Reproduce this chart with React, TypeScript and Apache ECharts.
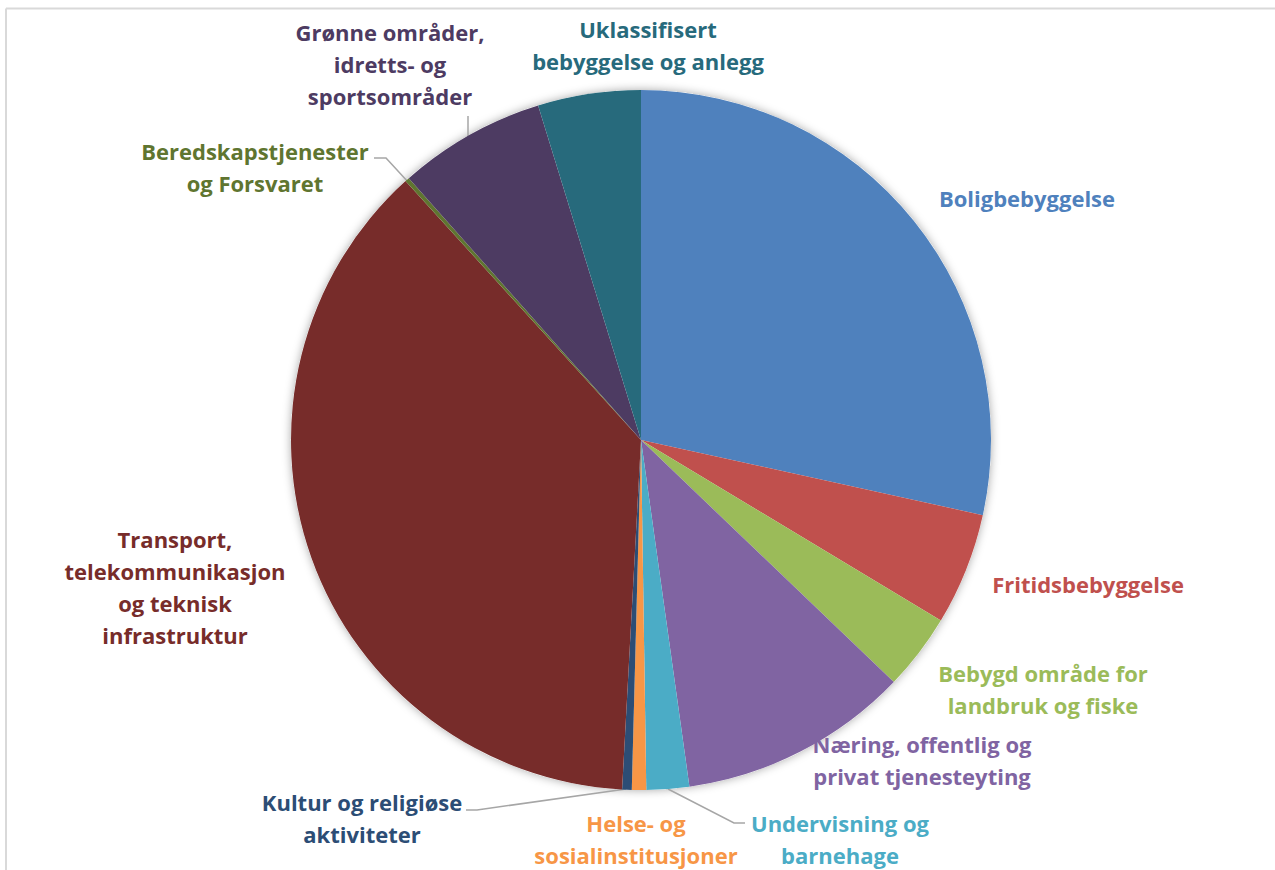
import React, { useEffect, useRef } from "react";
import * as echarts from "echarts";

const categories = [
  "Boligbebyggelse",
  "Fritidsbebyggelse",
  "Bebygd område for\nlandbruk og fiske",
  "Næring, offentlig og\nprivat tjenesteyting",
  "Undervisning og\nbarnehage",
  "Helse- og\nsosialinstitusjoner",
  "Kultur og religiøse\naktiviteter",
  "Transport,\ntelekommunikasjon\nog teknisk\ninfrastruktur",
  "Beredskapstjenester\nog Forsvaret",
  "Grønne områder,\nidretts- og\nsportsområder",
  "Uklassifisert\nbebyggelse og anlegg",
];

const values = [28.45, 5.18, 3.53, 10.64, 1.97, 0.66, 0.44, 37.4, 0.2, 6.8, 4.75];

const colors = [
  "#4F81BD",
  "#C0504D",
  "#9BBB59",
  "#8064A2",
  "#4BACC6",
  "#F79646",
  "#2C4D75",
  "#772C2A",
  "#5F7530",
  "#4D3B62",
  "#276A7C",
];

// label centre positions (px)
const labelPos: [number, number][] = [
  [1027, 198],
  [1088, 584],
  [1043, 689],
  [922, 760],
  [840, 839],
  [636, 839],
  [362, 818],
  [175, 587],
  [255, 167],
  [390, 64],
  [648, 45],
];

// leader lines (pie -> label), null = none
const leaderLines: ([number, number][] | null)[] = [
  null,
  null,
  null,
  null,
  [[668, 789], [734, 823], [745, 823]],
  null,
  [[626, 789], [477, 810], [466, 810]],
  null,
  [[409, 183], [386, 158], [374, 158]],
  [[468, 137], [468, 117], [468, 116]],
  null,
];

export default function App() {
  const ref = useRef<HTMLDivElement>(null);
  useEffect(() => {
    if (!ref.current) return;
    const chart = echarts.init(ref.current, null, { renderer: "svg" });
    const data = categories.map((name, i) => ({
      name,
      value: values[i],
      itemStyle: { color: colors[i] },
      label: { color: colors[i] },
      labelLine: { show: !!leaderLines[i] },
    }));
    chart.setOption({
      animation: false,
      backgroundColor: "#ffffff",
      graphic: [
        {
          type: "line",
          shape: { x1: 6, y1: 8.5, x2: 1275, y2: 8.5 },
          style: { stroke: "#D9D9D9", lineWidth: 2 },
        },
        {
          type: "line",
          shape: { x1: 6, y1: 8.5, x2: 6, y2: 870 },
          style: { stroke: "#D9D9D9", lineWidth: 2 },
        },
      ],
      series: [
        {
          type: "pie",
          silent: true,
          z: 1,
          center: [641, 440],
          radius: 350,
          label: { show: false },
          labelLine: { show: false },
          itemStyle: {
            color: "#ffffff",
            shadowBlur: 10,
            shadowColor: "rgba(0,0,0,0.35)",
          },
          data: [{ name: "", value: 1 }],
        },
        {
          type: "pie",
          z: 2,
          center: [641, 440],
          radius: 350,
          startAngle: 90,
          clockwise: true,
          avoidLabelOverlap: false,
          itemStyle: { borderWidth: 0 },
          label: {
            show: true,
            position: "outside",
            fontFamily: "Open Sans",
            fontWeight: "bold",
            fontSize: 22,
            lineHeight: 32,
            align: "center",
          },
          labelLine: {
            show: true,
            lineStyle: { color: "#A6A6A6", width: 1.5 },
          },
          labelLayout: (params: any) => {
            const i = params.dataIndex;
            const p = labelPos[i];
            const res: any = {
              x: p[0],
              y: p[1],
              align: "center",
              verticalAlign: "middle",
            };
            if (leaderLines[i]) res.labelLinePoints = leaderLines[i];
            return res;
          },
          data,
        },
      ],
    });
    return () => chart.dispose();
  }, []);
  return (
    <div
      ref={ref}
      style={{ position: "absolute", left: 0, top: 0, width: 1275, height: 870 }}
    />
  );
}
